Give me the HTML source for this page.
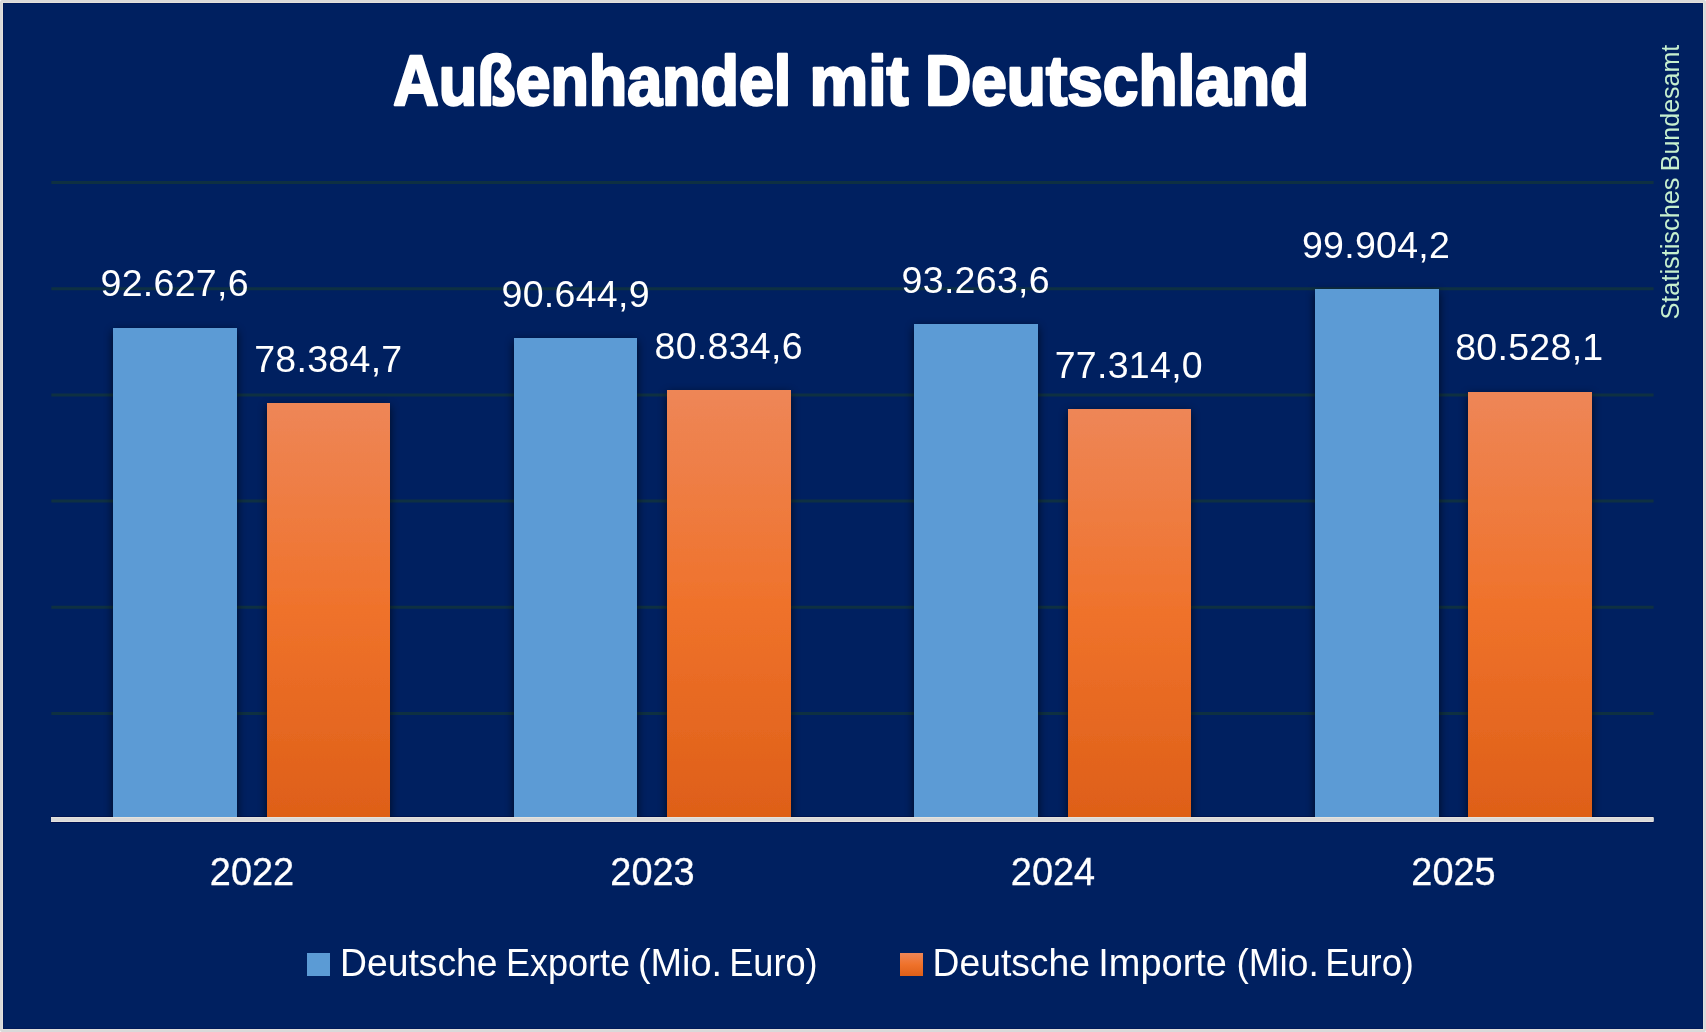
<!DOCTYPE html>
<html lang="de">
<head>
<meta charset="utf-8">
<title>Außenhandel mit Deutschland</title>
<style>
  html, body { margin: 0; padding: 0; }
  body {
    width: 1706px; height: 1032px; overflow: hidden;
    background: #ffffff;
    font-family: "Liberation Sans", sans-serif;
  }
  .frame {
    position: absolute; left: 0; top: 0;
    width: 1706px; height: 1032px; box-sizing: border-box;
    border: 2px solid #d9d9d9;
    border-radius: 2px;
    background: #e3e1dc;
  }
  .chart {
    position: absolute; left: 1px; top: 1px;
    width: 1700px; height: 1026px;
    background: #002060;
    box-shadow: inset 0 0 0 1px #001a5a;
  }
  svg { position: absolute; left: -3px; top: -3px; display: block; will-change: transform; }
  text { font-family: "Liberation Sans", sans-serif; fill: #ffffff; }
  .title { font-weight: bold; stroke: #ffffff; stroke-width: 2.6px; stroke-linejoin: round; }
  .val  { font-size: 37.5px; text-anchor: middle; }
  .cat  { font-size: 38.4px; stroke: #ffffff; stroke-width: 0.3px;  text-anchor: middle; }
  .leg  { font-size: 38.8px; }
  .src  { font-size: 26.67px; fill: #c6efce; }
  .grid line { stroke: #0e3042; stroke-width: 3; }
</style>
</head>
<body>
<div class="frame">
<div class="chart">
<svg width="1706" height="1032" viewBox="0 0 1706 1032" role="img" aria-label="Außenhandel mit Deutschland">
  <defs>
    <linearGradient id="gOrange" x1="0" y1="0" x2="0" y2="1">
      <stop offset="0" stop-color="#ee8657"/>
      <stop offset="0.5" stop-color="#ef722b"/>
      <stop offset="1" stop-color="#de5f18"/>
    </linearGradient>
    <clipPath id="plotClip"><rect x="0" y="100" width="1706" height="719.5"/></clipPath>
    <filter id="sh" x="-20%" y="-5%" width="140%" height="110%">
      <feGaussianBlur in="SourceAlpha" stdDeviation="4.6"/>
      <feOffset dx="0" dy="2.6" result="b"/>
      <feComponentTransfer><feFuncA type="linear" slope="0.68"/></feComponentTransfer>
      <feMerge><feMergeNode/><feMergeNode in="SourceGraphic"/></feMerge>
    </filter>
  </defs>

  <!-- title -->
  <text class="title" y="105.1" font-size="69.6"><tspan x="393.3" textLength="398" lengthAdjust="spacingAndGlyphs">Außenhandel</tspan> <tspan x="809.5" textLength="99" lengthAdjust="spacingAndGlyphs">mit</tspan> <tspan x="925" textLength="384.2" lengthAdjust="spacingAndGlyphs">Deutschland</tspan></text>

  <!-- gridlines -->
  <g class="grid">
    <line x1="51.3" x2="1653.6" y1="182.5" y2="182.5"/>
    <line x1="51.3" x2="1653.6" y1="288.7" y2="288.7"/>
    <line x1="51.3" x2="1653.6" y1="394.9" y2="394.9"/>
    <line x1="51.3" x2="1653.6" y1="501.1" y2="501.1"/>
    <line x1="51.3" x2="1653.6" y1="607.3" y2="607.3"/>
    <line x1="51.3" x2="1653.6" y1="713.5" y2="713.5"/>
  </g>

  <!-- bars -->
  <rect x="51" y="816" width="1602.6" height="1" fill="#001450"/>
  <g filter="url(#sh)" clip-path="url(#plotClip)">
    <rect x="113"  y="328" width="124" height="491" fill="#5b9bd5"/>
    <rect x="514"  y="338" width="123" height="481" fill="#5b9bd5"/>
    <rect x="914"  y="324" width="124" height="495" fill="#5b9bd5"/>
    <rect x="1315" y="289" width="124" height="530" fill="#5b9bd5"/>
    <rect x="267"  y="403" width="123" height="416" fill="url(#gOrange)"/>
    <rect x="667"  y="390" width="124" height="429" fill="url(#gOrange)"/>
    <rect x="1068" y="409" width="123" height="410" fill="url(#gOrange)"/>
    <rect x="1468" y="392" width="124" height="427" fill="url(#gOrange)"/>
  </g>

  <!-- axis line -->
  <rect x="51" y="817" width="1602.6" height="5" fill="#e4e2dd"/>
  <rect x="51" y="818" width="1602.6" height="3" fill="#d9d9d9"/>
  <rect x="51" y="822" width="1602.6" height="1" fill="#00104e"/>

  <!-- data labels -->
  <text class="val" x="174.5" y="296.4" textLength="148" lengthAdjust="spacing">92.627,6</text>
  <text class="val" x="328.2" y="371.7" textLength="148" lengthAdjust="spacing">78.384,7</text>
  <text class="val" x="575.5" y="306.5" textLength="148" lengthAdjust="spacing">90.644,9</text>
  <text class="val" x="728.5" y="358.8" textLength="148" lengthAdjust="spacing">80.834,6</text>
  <text class="val" x="975.6" y="293.1" textLength="148" lengthAdjust="spacing">93.263,6</text>
  <text class="val" x="1128.7" y="377.5" textLength="148" lengthAdjust="spacing">77.314,0</text>
  <text class="val" x="1375.9" y="257.9" textLength="148" lengthAdjust="spacing">99.904,2</text>
  <text class="val" x="1529.2" y="360.1" textLength="148" lengthAdjust="spacing">80.528,1</text>

  <!-- category labels -->
  <text class="cat" x="252" y="885" textLength="84.3" lengthAdjust="spacingAndGlyphs">2022</text>
  <text class="cat" x="652.5" y="885" textLength="84.3" lengthAdjust="spacingAndGlyphs">2023</text>
  <text class="cat" x="1053" y="885" textLength="84.3" lengthAdjust="spacingAndGlyphs">2024</text>
  <text class="cat" x="1453.5" y="885" textLength="84.3" lengthAdjust="spacingAndGlyphs">2025</text>

  <!-- legend -->
  <rect x="307" y="953" width="23" height="23" fill="#5b9bd5"/>
  <text class="leg" y="976"><tspan x="340.1" textLength="157.5" lengthAdjust="spacingAndGlyphs">Deutsche</tspan> <tspan x="505.9" textLength="124.1" lengthAdjust="spacingAndGlyphs">Exporte</tspan> <tspan x="637.9" textLength="84.1" lengthAdjust="spacingAndGlyphs">(Mio.</tspan> <tspan x="729.2" textLength="88.4" lengthAdjust="spacingAndGlyphs">Euro)</tspan></text>
  <rect x="900" y="953" width="23" height="23" fill="url(#gOrange)"/>
  <text class="leg" y="976"><tspan x="932.6" textLength="157.3" lengthAdjust="spacingAndGlyphs">Deutsche</tspan> <tspan x="1098.3" textLength="128.6" lengthAdjust="spacingAndGlyphs">Importe</tspan> <tspan x="1236.4" textLength="82.3" lengthAdjust="spacingAndGlyphs">(Mio.</tspan> <tspan x="1325.2" textLength="88.7" lengthAdjust="spacingAndGlyphs">Euro)</tspan></text>

  <!-- source -->
  <text class="src" transform="translate(1679.2 319.6) rotate(-90)"><tspan x="0" textLength="142.1" lengthAdjust="spacingAndGlyphs">Statistisches</tspan> <tspan x="148.3" textLength="126.6" lengthAdjust="spacingAndGlyphs">Bundesamt</tspan></text>
</svg>
</div>
</div>
</body>
</html>
